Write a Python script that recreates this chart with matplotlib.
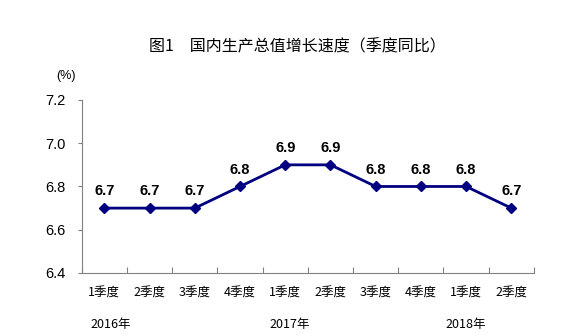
import matplotlib
matplotlib.use("Agg")
import matplotlib.pyplot as plt
import numpy as np

plt.rcParams['font.family'] = ['Noto Sans CJK SC', 'DejaVu Sans']

quarters = ["1季度", "2季度", "3季度", "4季度", "1季度", "2季度",
            "3季度", "4季度", "1季度", "2季度"]
growth = [6.7, 6.7, 6.7, 6.8, 6.9, 6.9, 6.8, 6.8, 6.8, 6.7]
years = ["2016年", "2017年", "2018年"]
year_pos = [0.15, 4.1, 8.0]
yticks = [6.4, 6.6, 6.8, 7.0, 7.2]

fig = plt.figure(figsize=(5.68, 3.36), dpi=100)
ax = fig.add_axes([0.144, 0.1875, 0.796, 0.515])

x = np.arange(len(growth))
ax.plot(x, growth, color="#000080", lw=2, marker="D", ms=5.5, zorder=3)
for xi, v in zip(x, growth):
    ax.annotate(f"{v:.1f}", (xi, v), xytext=(0, 7), textcoords="offset points",
                ha="center", va="bottom", fontsize=10.5, fontweight="bold",
                family=["Liberation Sans", "DejaVu Sans"])

ax.set_xlim(-0.5, len(growth) - 0.5)
ax.set_ylim(6.4, 7.2)
ax.set_yticks(yticks)
ax.set_yticklabels([f"{t:.1f}" for t in yticks],
                   family=["Liberation Sans", "DejaVu Sans"], fontsize=10.5)
ax.tick_params(axis="y", length=3, direction="out", color="#808080", pad=9)

# category boundaries as ticks, labels at centres
ax.set_xticks(np.arange(-0.5, len(growth)), minor=False)
ax.set_xticklabels([])
ax.set_xticks(x, minor=True)
ax.set_xticklabels(quarters, minor=True, fontsize=9)
ax.tick_params(axis="x", which="major", direction="in", length=4, color="#808080")
ax.tick_params(axis="x", which="minor", length=0, pad=10)

for s in ("top", "right"):
    ax.spines[s].set_visible(False)
for s in ("left", "bottom"):
    ax.spines[s].set_color("#808080")

for pos, lab in zip(year_pos, years):
    ax.text(pos, -0.30, lab, transform=ax.get_xaxis_transform(),
            ha="center", va="center", fontsize=9)

fig.text(0.116, 0.775, "(%)", ha="center", va="center", fontsize=9,
         family=["Liberation Sans", "DejaVu Sans"])
fig.text(0.523, 0.86, "图1　国内生产总值增长速度（季度同比）",
         ha="center", va="center", fontsize=11.5)

fig.savefig("out.png", dpi=100)
